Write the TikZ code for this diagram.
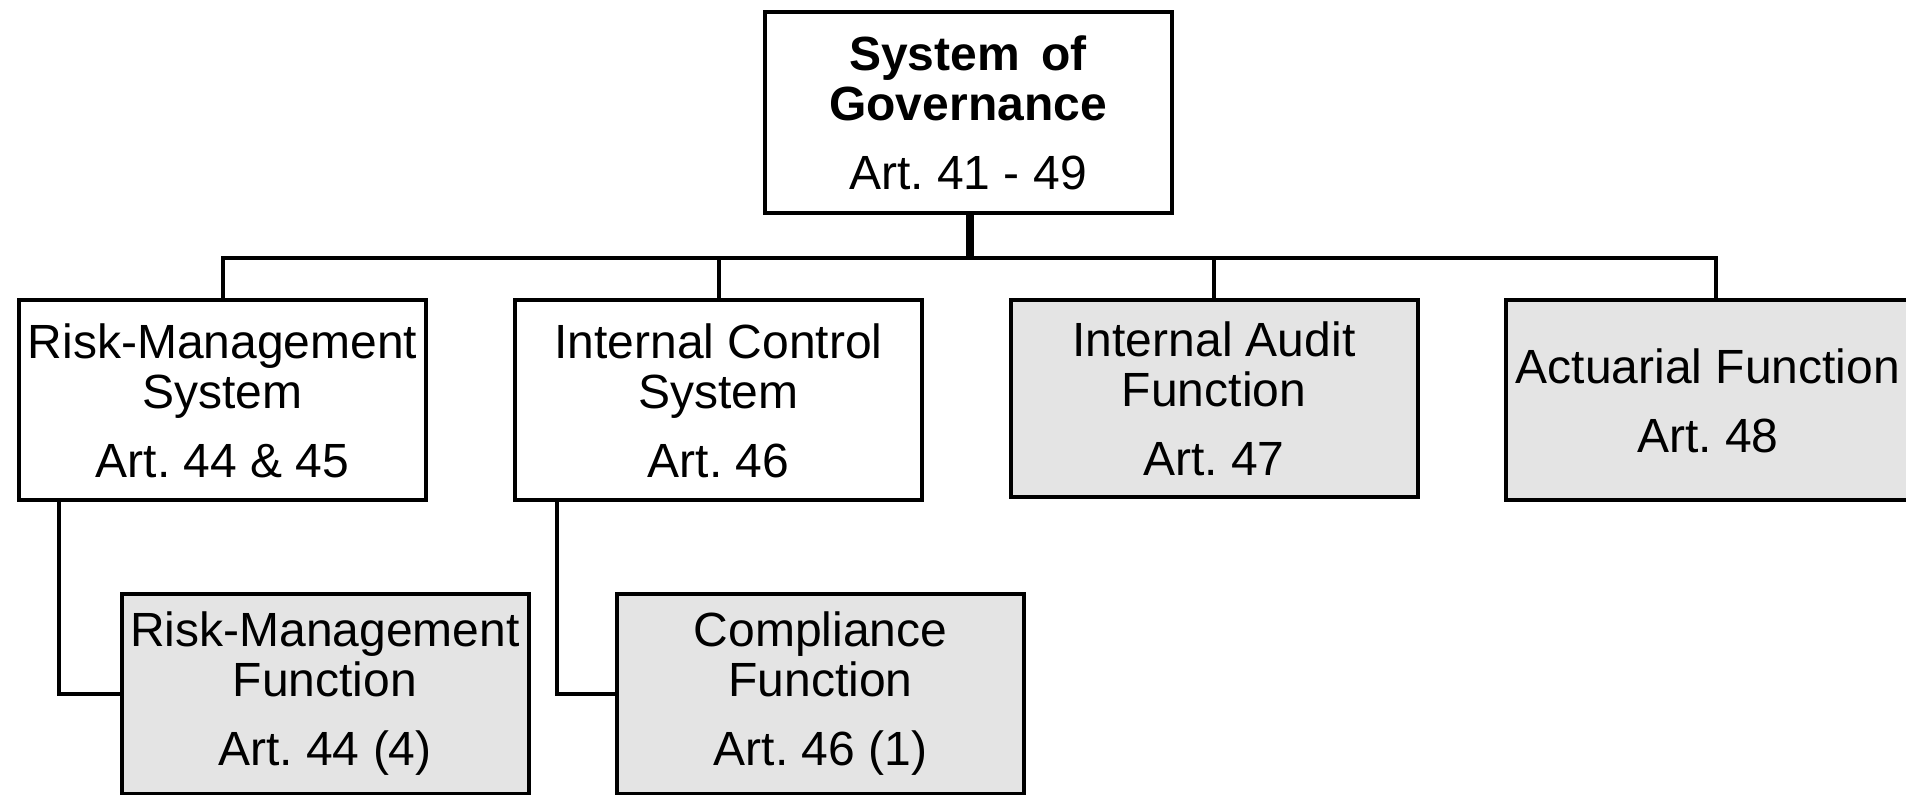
\documentclass[tikz,border=0pt]{standalone}
\usepackage{fontspec}
\setmainfont{Liberation Sans}
\definecolor{boxgrey}{RGB}{228,228,228}
\frenchspacing

\begin{document}
\begin{tikzpicture}[x=0.5pt, y=-0.5pt]

  % Styles
  \tikzstyle{boite} = [draw, line width=2pt, inner sep=0pt, align=center,
                       minimum width=203.5pt, minimum height=100pt,
                       font=\fontsize{24}{25}\selectfont]
  \tikzstyle{fonction} = [boite, fill=boxgrey]
  \tikzstyle{trait} = [line width=2pt]
  \tikzstyle{tronc} = [line width=4pt]

  % Cadre du schéma
  \useasboundingbox (0,0) rectangle (1906,795);
  \clip (0,0) rectangle (1906,795);

  % Racine
  \node[boite, minimum height=100.5pt] (sog) at (968,112.5)
    {\textbf{System \,of}\\\textbf{Governance}\\[9.5pt]Art. 41 - 49};

  % Systèmes et fonctions
  \node[boite] (rms) at (222.5,400.5) {Risk-Management\\System\\[9.5pt]Art. 44 \& 45};
  \node[boite] (ics) at (718.5,400.5) {Internal Control\\System\\[9.5pt]Art. 46};
  \node[fonction, minimum height=98.5pt] (iaf) at (1214,398.5) {Internal Audit\\Function\\[9.5pt]Art. 47};
  \node[fonction, minimum width=202pt] (af) at (1708,400.5) {Actuarial Function\\[9.5pt]Art. 48};

  % Sous-fonctions
  \node[fonction] (rmf) at (325,694) {Risk-Management\\Function\\[9.5pt]Art. 44 (4)};
  \node[fonction] (cf) at (820.5,694) {Compliance\\Function\\[9.5pt]Art. 46 (1)};

  % Liaisons
  \coordinate (jonction) at (970,258);
  \draw[tronc] (sog.south -| jonction) -- (jonction);
  \draw[trait] (jonction) -| (rms.north);
  \draw[trait] (jonction) -| (ics.north);
  \draw[trait] (jonction) -| (iaf.north);
  \draw[trait] (jonction) -| ([xshift=4pt]af.north);

  \draw[trait] ([xshift=21pt]rms.south west) |- (rmf.west);
  \draw[trait] ([xshift=22pt]ics.south west) |- (cf.west);

\end{tikzpicture}
\end{document}
